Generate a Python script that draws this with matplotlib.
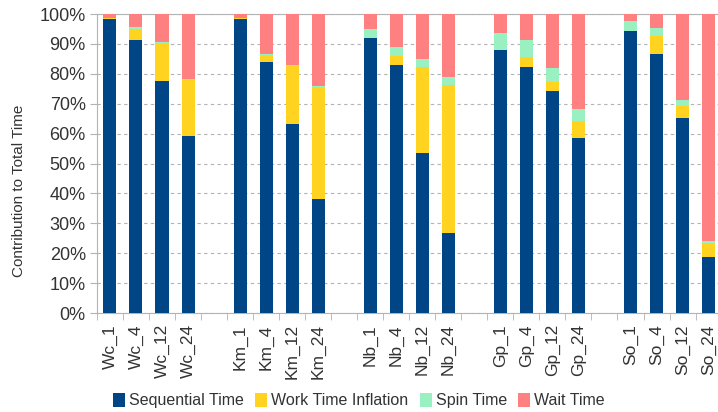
import numpy as np
import matplotlib
matplotlib.use("Agg")
from matplotlib import pyplot as plt
from matplotlib.ticker import PercentFormatter, MultipleLocator

plt.rcParams['font.family'] = ['Liberation Sans', 'DejaVu Sans']

groups = ["Wc", "Km", "Nb", "Gp", "So"]
threads = ["1", "4", "12", "24"]

# percentages, per group in order of threads
sequential = [98.2, 91.3, 77.5, 59.2,
              98.4, 83.9, 63.1, 38.2,
              91.9, 83.0, 53.5, 26.9,
              87.8, 82.2, 74.3, 58.7,
              94.4, 86.6, 65.1, 18.9]
inflation = [0.3, 3.6, 12.9, 18.8,
             0.2, 2.4, 19.6, 37.3,
             0.0, 3.0, 28.9, 49.4,
             0.0, 3.3, 2.9, 5.6,
             0.0, 6.0, 4.2, 4.5]
spin = [0.2, 0.6, 0.4, 0.4,
        0.1, 0.2, 0.3, 0.3,
        3.0, 3.1, 2.5, 2.8,
        6.0, 5.8, 4.9, 3.9,
        3.3, 2.8, 2.0, 0.7]
wait = [1.3, 4.5, 9.2, 21.6,
        1.3, 13.5, 17.0, 24.2,
        5.1, 10.9, 15.1, 20.9,
        6.2, 8.7, 17.9, 31.8,
        2.3, 4.6, 28.7, 75.9]

labels = [g + "_" + t for g in groups for t in threads]

# one empty slot between groups
xpos = []
for gi in range(len(groups)):
    for ti in range(len(threads)):
        xpos.append(gi * 5 + ti)
xpos = np.array(xpos)

series = [("Sequential Time", sequential, "#004586"),
          ("Work Time Inflation", inflation, "#ffd320"),
          ("Spin Time", spin, "#99f0c0"),
          ("Wait Time", wait, "#ff8080")]

fig = plt.figure(figsize=(7.18, 4.12), dpi=100)
ax = fig.add_axes([0.135, 0.24, 0.87, 0.726])

bottom = np.zeros(len(xpos))
for name, vals, col in series:
    vals = np.array(vals)
    ax.bar(xpos, vals, width=0.5, bottom=bottom, color=col, label=name, zorder=3)
    bottom += vals

ax.set_ylim(0, 100)
ax.set_xlim(-0.5, 23.5)
ax.yaxis.set_major_locator(MultipleLocator(10))
ax.yaxis.set_major_formatter(PercentFormatter(decimals=0))
ax.grid(axis='y', color='#b3b3b3', linestyle=(0, (3, 3)), linewidth=0.8, zorder=0)

ax.set_xticks(xpos)
ax.set_xticklabels(labels, rotation=90, fontsize=12.5, color='#333333')
ax.tick_params(axis='x', length=0, pad=8)
ax.set_xticks(np.arange(-0.5, 24, 1), minor=True)
ax.tick_params(axis='x', which='minor', length=5, color='#b3b3b3')
ax.tick_params(axis='y', length=5, color='#b3b3b3', labelsize=13, labelcolor='#333333', pad=3)

for sp in ax.spines.values():
    sp.set_color('#b3b3b3')

ax.set_ylabel("Contribution to Total Time", fontsize=11, color='#333333')
ax.yaxis.set_label_coords(-0.113, 0.41)

fig.legend(loc='center', bbox_to_anchor=(0.5, 0.028), ncol=4, frameon=False,
           fontsize=11.5, handlelength=0.75, handleheight=1.0, handletextpad=0.25,
           columnspacing=0.7, labelcolor='#333333')

fig.savefig("out.png", dpi=100)
